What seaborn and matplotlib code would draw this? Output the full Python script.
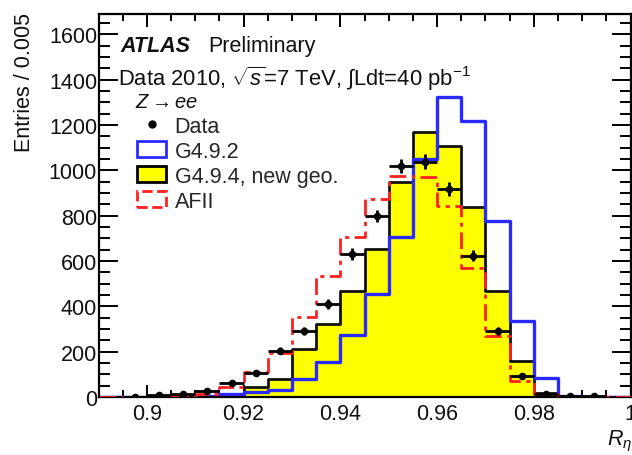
import numpy as np
import matplotlib
matplotlib.use("Agg")
import matplotlib.pyplot as plt
import seaborn as sns
from matplotlib.patches import Patch
from matplotlib.lines import Line2D
from matplotlib.ticker import MultipleLocator

# ---------------- data ----------------
bin_edges = [0.890, 0.895, 0.900, 0.905, 0.910, 0.915, 0.920, 0.925, 0.930, 0.935,
             0.940, 0.945, 0.950, 0.955, 0.960, 0.965, 0.970, 0.975, 0.980, 0.985,
             0.990, 0.995, 1.000]
bin_centers = [0.8925, 0.8975, 0.9025, 0.9075, 0.9125, 0.9175, 0.9225, 0.9275, 0.9325,
               0.9375, 0.9425, 0.9475, 0.9525, 0.9575, 0.9625, 0.9675, 0.9725, 0.9775,
               0.9825, 0.9875, 0.9925, 0.9975]
data_counts = [0, 2, 8, 15, 28, 60, 104, 205, 291, 410, 631, 799, 1020, 1038, 918, 623,
               291, 93, 14, 3, 3, 0]
g492_counts = [0, 0, 0, 2, 5, 13, 20, 33, 80, 155, 272, 455, 706, 1051, 1325, 1219,
               777, 336, 84, 5, 0, 0]
g494_counts = [0, 0, 0, 1, 3, 10, 44, 80, 210, 322, 466, 653, 949, 1170, 1106, 839,
               468, 159, 18, 1, 0, 0]
afii_counts = [0, 0, 1, 4, 12, 46, 110, 192, 353, 532, 708, 874, 976, 971, 841, 570,
               269, 71, 12, 1, 0, 0]

x_ticks = [0.90, 0.92, 0.94, 0.96, 0.98, 1.00]
x_tick_labels = ["0.9", "0.92", "0.94", "0.96", "0.98", "1"]
y_ticks = [0, 200, 400, 600, 800, 1000, 1200, 1400, 1600]
y_tick_labels = ["0", "200", "400", "600", "800", "1000", "1200", "1400", "1600"]
legend_labels = ["Data", "G4.9.2", "G4.9.4, new geo.", "AFII"]

# ---------------- style ----------------
sns.set_theme(style="ticks")
plt.rcParams["font.family"] = ["Liberation Sans", "DejaVu Sans"]
plt.rcParams["mathtext.fontset"] = "custom"
plt.rcParams["mathtext.rm"] = "Liberation Sans"
plt.rcParams["mathtext.it"] = "Liberation Sans:italic"
plt.rcParams["mathtext.bf"] = "Liberation Sans:bold"
plt.rcParams["mathtext.fallback"] = "cm"

FS = 15.5
W, H = 632, 456
L, R, T, B = 98.5, 630.5, 15, 398

fig = plt.figure(figsize=(W / 100, H / 100), dpi=100)
fig.patch.set_facecolor("white")
ax = fig.add_axes([L / W, 1 - B / H, (R - L) / W, (B - T) / H])
ax.set_facecolor("white")


def axc(px, py):
    return (px - L) / (R - L), (B - py) / (B - T)


sns.histplot(x=bin_centers, weights=g494_counts, bins=bin_edges, element="step",
             fill=True, color="#ffff00", alpha=1, edgecolor="#111111", linewidth=2.0,
             ax=ax, zorder=1)
sns.histplot(x=bin_centers, weights=g492_counts, bins=bin_edges, element="step",
             fill=False, color="#2a2aff", linewidth=2.4, ax=ax, zorder=2)
sns.histplot(x=bin_centers, weights=afii_counts, bins=bin_edges, element="step",
             fill=False, color="#ff2020", linewidth=2.0, linestyle=(0, (6, 2, 1.5, 2)),
             ax=ax, zorder=3)

dc = np.array(data_counts, dtype=float)
xc = np.array(bin_centers)
mask = dc > 0
ax.errorbar(xc[mask], dc[mask], xerr=0.0025, yerr=np.sqrt(dc[mask]), fmt="none",
            ecolor="black", elinewidth=2.0, capsize=0, zorder=5)
sns.scatterplot(x=xc[mask], y=dc[mask], color="black", s=30, edgecolor="black",
                linewidth=0, ax=ax, zorder=6)

ax.set_xlim(bin_edges[0], bin_edges[-1])
ax.set_ylim(0, 1690)
ax.set_xlabel("")
ax.set_ylabel("")
ax.set_xticks(x_ticks)
ax.set_xticklabels(x_tick_labels)
ax.set_yticks(y_ticks)
ax.set_yticklabels(y_tick_labels)
ax.xaxis.set_minor_locator(MultipleLocator(0.005))
ax.yaxis.set_minor_locator(MultipleLocator(50))
for s in ax.spines.values():
    s.set_visible(True)
    s.set_linewidth(1.6)
    s.set_color("black")
ax.tick_params(axis="both", which="both", direction="in", top=True, right=True,
               width=1.4, color="black", labelsize=FS, labelcolor="#111111")
ax.tick_params(axis="y", which="major", length=14, pad=1)
ax.tick_params(axis="y", which="minor", length=8)
ax.tick_params(axis="x", which="major", length=9, pad=4)
ax.tick_params(axis="x", which="minor", length=5)

# legend
handles = [
    Line2D([], [], marker="o", color="black", linestyle="none", markersize=5),
    Patch(facecolor="white", edgecolor="#2a2aff", linewidth=2),
    Patch(facecolor="#ffff00", edgecolor="black", linewidth=2),
    Patch(facecolor="white", edgecolor="#ff2020", linewidth=2, linestyle="--"),
]
lx, ly = axc(137, 117)
ax.legend(handles, legend_labels, loc="upper left", bbox_to_anchor=(lx, ly),
          frameon=False, fontsize=FS, borderpad=0, borderaxespad=0,
          handlelength=1.35, handleheight=0.75, handletextpad=0.4,
          labelspacing=0.18)

# annotations
x0, y0 = axc(120, 52)
ax.text(x0, y0, "ATLAS", transform=ax.transAxes, fontsize=FS, fontweight="bold",
        fontstyle="italic", va="baseline", ha="left", color="#111111")
x0, y0 = axc(208, 52)
ax.text(x0, y0, "Preliminary", transform=ax.transAxes, fontsize=FS, va="baseline",
        ha="left", color="#111111")
x0, y0 = axc(118, 86)
ax.text(x0, y0, r"Data 2010, $\sqrt{s}$=7 TeV, $\int$Ldt=40 pb$^{-1}$",
        transform=ax.transAxes, fontsize=FS + 0.3, va="baseline", ha="left",
        color="#111111")
x0, y0 = axc(135, 103)
ax.text(x0, y0, r"$Z\rightarrow ee$", transform=ax.transAxes, fontsize=FS - 1,
        va="center", ha="left", color="#111111")

fig.text(25 / W, 1 - 13 / H, "Entries / 0.005", rotation=90, fontsize=FS,
         ha="center", va="top", color="#111111")
fig.text(620 / W, 1 - 441 / H, r"$R_{\eta}$", fontsize=FS, ha="center",
         va="center", color="#111111")

fig.savefig("out.png", dpi=100, facecolor="white")
